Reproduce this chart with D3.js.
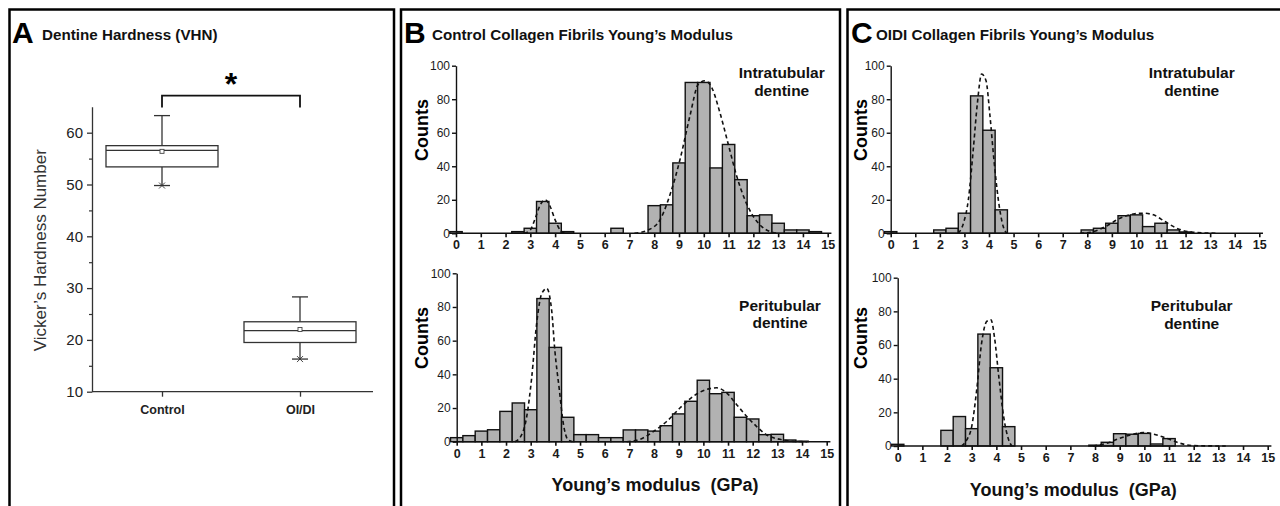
<!DOCTYPE html>
<html><head><meta charset="utf-8">
<script src="https://cdn.jsdelivr.net/npm/d3@7"></script>
<style>
html,body{margin:0;padding:0;background:#fff;}
svg{display:block;font-family:"Liberation Sans",Arial,sans-serif;}
</style></head><body>
<svg id="c" width="1280" height="506"></svg>
<script>
// ---------- Panel A data (box plot) ----------
const hardnessGroups = ["Control", "OI/DI"];
const hardnessMin    = [49.8, 16.3];
const hardnessQ1     = [53.4, 19.5];
const hardnessMedian = [56.6, 21.8];
const hardnessQ3     = [57.5, 23.5];
const hardnessMax    = [63.3, 28.3];
const hardnessMean   = [56.4, 22.0];
const hardnessTicks  = [10, 20, 30, 40, 50, 60];
const hardnessMinorTicks = [15, 25, 35, 45, 55];

// ---------- Histogram data ----------
const binCenters = [0,0.5,1,1.5,2,2.5,3,3.5,4,4.5,5,5.5,6,6.5,7,7.5,8,8.5,9,9.5,10,10.5,11,11.5,12,12.5,13,13.5,14,14.5];
const modulusTicks = [0,1,2,3,4,5,6,7,8,9,10,11,12,13,14,15];
const countTicks = [0,20,40,60,80,100];

const ctrlIntraCounts = [1,0,0,0,0,1,3,19,6,1,0,0,0,3,0,0,16.5,17,42,90,90,39,53,32,10.5,11,6,2,2,1];
const ctrlPeriCounts  = [2.4,3.6,6.3,7.1,18,23,19,85,56,14.5,4.2,4.2,2.4,2.4,7,7,6.3,9.5,16.5,24,36.5,28.5,29.3,14.5,13.5,4.2,4.4,1,0.3,0];
const oidiIntraCounts = [1,0,0,0,2,3,12,82,61.5,14,0,0,0,0,0,0,2,3,6,10.5,11,4,6,2,0.8,0,0,0,0,0];
const oidiPeriCounts  = [1,0,0,0,9.3,17.5,10.3,66.5,46.5,11.5,0,0,0,0,0,0,0.5,2.2,7.3,7,7.5,1.2,4.4,0,0,0,0,0,0,0];

// fitted (dashed) curves: [GPa, counts]
const ctrlIntraFitLow  = [[2.75,0],[3.0,2],[3.2,9],[3.4,17],[3.6,20],[3.8,16],[4.0,8],[4.2,2],[4.4,0]];
const ctrlIntraFitHigh = [[7.2,0],[7.76,2],[8.23,8],[8.7,26],[9.04,44],[9.44,70],[9.78,89],[10.05,91],[10.32,87],[10.65,72],[10.99,53],[11.33,34],[11.66,20],[12.0,10],[12.34,4],[12.67,1],[13.0,0]];
const ctrlPeriFitLow   = [[2.36,0],[2.63,4],[2.84,15],[3.04,38],[3.24,70],[3.45,88],[3.65,91],[3.85,78],[3.98,54],[4.16,31],[4.32,11],[4.52,1],[4.7,0]];
const ctrlPeriFitHigh  = [[6.89,0],[7.43,1.4],[7.97,6],[8.51,12],[9.05,20],[9.59,27],[10.13,31],[10.54,32],[10.94,29],[11.35,22],[11.76,15],[12.16,9],[12.57,4],[13.1,1.4],[13.64,0.2],[14.2,0]];
const oidiIntraFitLow  = [[2.75,0],[2.96,6],[3.16,20],[3.36,50],[3.53,78],[3.7,95],[3.88,91],[4.04,70],[4.2,44],[4.38,20],[4.58,4],[4.72,0]];
const oidiIntraFitHigh = [[7.7,0],[8.25,1],[8.79,4.4],[9.33,9],[9.87,11.5],[10.28,12],[10.69,11],[11.16,7],[11.64,3],[12.18,0.8],[13.27,0]];
const oidiPeriFitLow   = [[2.59,0],[2.8,3.6],[3.0,11.5],[3.2,33],[3.4,61],[3.61,74],[3.78,75],[3.92,65],[4.1,41],[4.3,17],[4.5,3.6],[4.62,0]];
const oidiPeriFitHigh  = [[7.92,0],[8.47,1.6],[9.0,4.6],[9.55,7],[9.96,8],[10.37,7],[10.91,4.6],[11.45,1.6],[12.0,0.2],[13.3,0]];

// ---------- drawing ----------
const svg = d3.select("#c");
const FONT = '"Liberation Sans", Arial, sans-serif';

// panel frames
const frames = [[9.5, 394], [401, 840], [847.5, 1300]];
frames.forEach(([x1, x2]) => {
  svg.append("rect").attr("x", x1).attr("y", 9.5).attr("width", x2 - x1).attr("height", 520)
    .attr("fill", "none").attr("stroke", "#000").attr("stroke-width", 2.5);
});

// panel letters & titles
const letters = [["A", 12, "Dentine Hardness (VHN)", 42],
                 ["B", 404, "Control Collagen Fibrils Young\u2019s Modulus", 432],
                 ["C", 851, "OIDI Collagen Fibrils Young\u2019s Modulus", 876]];
letters.forEach(([L, lx, T, tx]) => {
  svg.append("text").attr("x", lx).attr("y", 42.5).attr("font-size", 30).attr("font-weight", "bold").text(L);
  svg.append("text").attr("x", tx).attr("y", 39.5).attr("font-size", 15.2).attr("font-weight", "bold").attr("fill", "#111").text(T);
});

// ---------- Panel A ----------
{
  const y = d3.scaleLinear().domain([10, 65]).range([391.7, 106.8]);
  const x = d3.scalePoint().domain(hardnessGroups).range([162, 300]);
  const g = svg.append("g");
  const axL = g.append("g").attr("transform", "translate(92,0)")
    .call(d3.axisLeft(y).tickValues(hardnessTicks).tickSize(5).tickSizeOuter(0).tickPadding(4));
  axL.selectAll("text").attr("font-size", 15).attr("fill", "#222").attr("font-family", FONT);
  axL.selectAll("line,path").attr("stroke", "#333").attr("stroke-width", 1.3);
  g.append("g").attr("transform", "translate(92,0)")
    .call(d3.axisLeft(y).tickValues(hardnessMinorTicks).tickSize(3).tickFormat(""))
    .call(s => s.select(".domain").remove())
    .selectAll("line").attr("stroke", "#333").attr("stroke-width", 1.2);
  // x axis
  g.append("line").attr("x1", 92).attr("x2", 373).attr("y1", y(10)).attr("y2", y(10))
    .attr("stroke", "#333").attr("stroke-width", 1.3);
  const axB = g.append("g").attr("transform", `translate(0,${y(10)})`)
    .call(d3.axisBottom(x).tickSize(5).tickSizeOuter(0).tickPadding(8));
  axB.select(".domain").remove();
  axB.selectAll("line").attr("stroke", "#333").attr("stroke-width", 1.3);
  axB.selectAll("text").attr("font-size", 12.5).attr("font-weight", "bold").attr("fill", "#222").attr("font-family", FONT);

  g.append("text").attr("transform", `translate(46,${(y(10) + y(65)) / 2 + 1}) rotate(-90)`)
    .attr("text-anchor", "middle").attr("font-size", 17).attr("fill", "#333").text("Vicker\u2019s Hardness Number");

  const hw = 56, cw = 8;
  hardnessGroups.forEach((grp, i) => {
    const cx = x(grp);
    const ln = (x1, y1, x2, y2) => g.append("line").attr("x1", x1).attr("y1", y1).attr("x2", x2).attr("y2", y2)
      .attr("stroke", "#333").attr("stroke-width", 1.3);
    ln(cx, y(hardnessMax[i]), cx, y(hardnessQ3[i]));
    ln(cx, y(hardnessQ1[i]), cx, y(hardnessMin[i]));
    ln(cx - cw, y(hardnessMax[i]), cx + cw, y(hardnessMax[i]));
    ln(cx - cw, y(hardnessMin[i]), cx + cw, y(hardnessMin[i]));
    g.append("rect").attr("x", cx - hw).attr("y", y(hardnessQ3[i])).attr("width", 2 * hw)
      .attr("height", y(hardnessQ1[i]) - y(hardnessQ3[i])).attr("fill", "#fff").attr("stroke", "#333").attr("stroke-width", 1.3);
    ln(cx - hw, y(hardnessMedian[i]), cx + hw, y(hardnessMedian[i]));
    g.append("rect").attr("x", cx - 2).attr("y", y(hardnessMean[i]) - 2).attr("width", 4).attr("height", 4)
      .attr("fill", "#fff").attr("stroke", "#444").attr("stroke-width", 0.9);
    const my = y(hardnessMin[i]);
    ln(cx - 3, my - 3, cx + 3, my + 3).attr("stroke-width", 0.9);
    ln(cx - 3, my + 3, cx + 3, my - 3).attr("stroke-width", 0.9);
  });
  // significance bracket
  const bx1 = x(hardnessGroups[0]), bx2 = x(hardnessGroups[1]);
  g.append("path").attr("d", `M${bx1},107.5V95.7H${bx2}V107.5`).attr("fill", "none")
    .attr("stroke", "#111").attr("stroke-width", 1.8);
  g.append("text").attr("x", (bx1 + bx2) / 2).attr("y", 95).attr("text-anchor", "middle")
    .attr("font-size", 32).attr("font-weight", "bold").text("*");
}

// ---------- Histograms ----------
function hist(cfg) {
  const x = d3.scaleLinear().domain([0, 15]).range([cfg.x0, cfg.x15]);
  const y = d3.scaleLinear().domain([0, 100]).range([cfg.y0, cfg.y100]);
  const g = svg.append("g");
  const hwb = 0.25;
  g.selectAll("rect.bar").data(binCenters.map((c, i) => [c, cfg.counts[i]]).filter(d => d[1] > 0))
    .enter().append("rect").attr("class", "bar")
    .attr("x", d => x(d[0] - hwb)).attr("width", d => x(d[0] + hwb) - x(d[0] - hwb))
    .attr("y", d => y(d[1])).attr("height", d => y(0) - y(d[1]))
    .attr("fill", "#b2b2b2").attr("stroke", "#111").attr("stroke-width", 1.4);
  const line = d3.line().x(d => x(d[0])).y(d => y(d[1])).curve(d3.curveMonotoneX);
  cfg.fits.forEach(f => {
    g.append("path").attr("d", line(f)).attr("fill", "none").attr("stroke", "#111")
      .attr("stroke-width", 1.6).attr("stroke-dasharray", "4,3");
  });
  const axB = g.append("g").attr("transform", `translate(0,${cfg.y0})`)
    .call(d3.axisBottom(x).tickValues(modulusTicks).tickSize(4).tickSizeOuter(0).tickPadding(3));
  axB.select(".domain").attr("d", `M${x(0)},0H${x(15.15)}`);
  axB.selectAll("line,path").attr("stroke", "#111").attr("stroke-width", 1.6);
  axB.selectAll("text").attr("font-size", 12.5).attr("font-weight", "bold").attr("fill", "#1a1a1a").attr("font-family", FONT);
  const axL = g.append("g").attr("transform", `translate(${cfg.x0},0)`)
    .call(d3.axisLeft(y).tickValues(countTicks).tickSize(4).tickSizeOuter(0).tickPadding(2));
  axL.selectAll("line,path").attr("stroke", "#111").attr("stroke-width", 1.4);
  axL.selectAll("text").attr("font-size", 12).attr("fill", "#1a1a1a").attr("font-family", FONT);
  g.append("text").attr("transform", `translate(${cfg.cx + 6},${cfg.cy}) rotate(-90)`)
    .attr("text-anchor", "middle").attr("font-size", 18).attr("font-weight", "bold").text("Counts");
  cfg.label.forEach((t, i) => {
    g.append("text").attr("x", cfg.lx).attr("y", cfg.ly + i * 17.5).attr("text-anchor", "middle")
      .attr("font-size", 15.5).attr("font-weight", "bold").attr("fill", "#111").text(t);
  });
  if (cfg.xtitle) {
    g.append("text").attr("x", cfg.tx).attr("y", cfg.ty).attr("text-anchor", "middle")
      .style("white-space", "pre")
      .attr("font-size", 18).attr("font-weight", "bold").attr("fill", "#111").text("Young\u2019s modulus  (GPa)");
  }
}

hist({ x0: 456, x15: 827.7, y0: 233.3, y100: 65.7, counts: ctrlIntraCounts, fits: [ctrlIntraFitLow, ctrlIntraFitHigh],
       cx: 421.7, cy: 130, label: ["Intratubular", "dentine"], lx: 781.7, ly: 78 });
hist({ x0: 456.7, x15: 826.7, y0: 441.7, y100: 273.3, counts: ctrlPeriCounts, fits: [ctrlPeriFitLow, ctrlPeriFitHigh],
       cx: 421.7, cy: 338, label: ["Peritubular", "dentine"], lx: 780, ly: 310.5, xtitle: true, tx: 655, ty: 491 });
hist({ x0: 890.7, x15: 1259.3, y0: 233.3, y100: 65.7, counts: oidiIntraCounts, fits: [oidiIntraFitLow, oidiIntraFitHigh],
       cx: 860.7, cy: 130, label: ["Intratubular", "dentine"], lx: 1191.7, ly: 78 });
hist({ x0: 897.7, x15: 1267.7, y0: 446, y100: 277.7, counts: oidiPeriCounts, fits: [oidiPeriFitLow, oidiPeriFitHigh],
       cx: 860.7, cy: 338, label: ["Peritubular", "dentine"], lx: 1191.7, ly: 311, xtitle: true, tx: 1073.3, ty: 496 });
</script>
</body></html>
